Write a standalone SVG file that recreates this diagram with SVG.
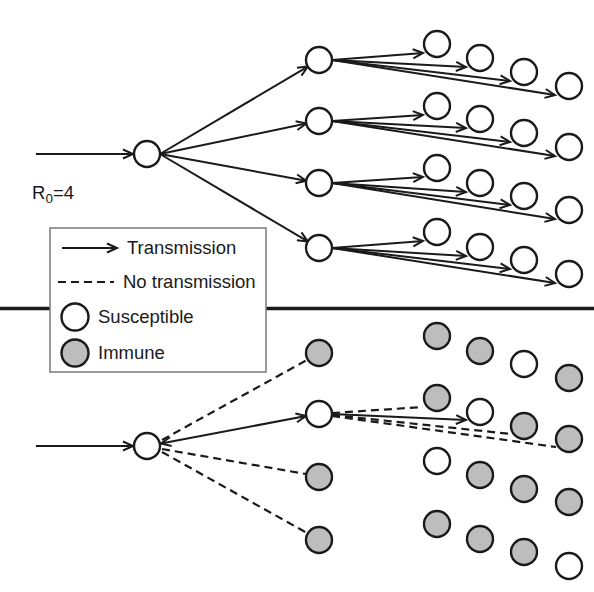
<svg xmlns="http://www.w3.org/2000/svg" width="594" height="592" viewBox="0 0 594 592">
<defs>
<marker id="ah" markerUnits="userSpaceOnUse" markerWidth="14" markerHeight="12" refX="10" refY="4.5" orient="auto-start-reverse" overflow="visible">
<path d="M0,0 L10,4.5 L0,9" fill="none" stroke="#1a1a1a" stroke-width="2"/>
</marker>
<style>
.n{stroke:#1a1a1a;stroke-width:2.4;}
.s{fill:#ffffff;}
.i{fill:#bdbdbd;}
.t{stroke:#1a1a1a;stroke-width:2;fill:none;marker-end:url(#ah);}
.b{stroke:#1a1a1a;stroke-width:2;fill:none;marker-start:url(#ah);marker-end:url(#ah);}
.d{stroke:#1a1a1a;stroke-width:2.2;fill:none;stroke-dasharray:8,5;}
.lbl{font-family:"Liberation Sans",Arial,sans-serif;font-size:18.5px;fill:#1a1a1a;}
</style>
</defs>
<rect width="594" height="592" fill="#ffffff"/>
<line x1="0" y1="308.5" x2="594" y2="308.5" stroke="#1a1a1a" stroke-width="3.5"/>

<g id="connectors">
<line class="t" x1="36" y1="154" x2="133" y2="154"/>
<line class="t" x1="160" y1="154" x2="307.8" y2="66.6"/>
<line class="t" x1="160" y1="154" x2="306.3" y2="123.6"/>
<line class="t" x1="160" y1="154" x2="306.2" y2="180.7"/>
<line class="t" x1="160" y1="154" x2="307.8" y2="241.4"/>
<line class="t" x1="332" y1="60" x2="423" y2="53"/>
<line class="t" x1="332" y1="60" x2="466" y2="67"/>
<line class="t" x1="332" y1="60" x2="510" y2="81"/>
<line class="t" x1="332" y1="60" x2="555" y2="95"/>
<line class="t" x1="332" y1="121" x2="423" y2="115"/>
<line class="t" x1="332" y1="121" x2="466" y2="128"/>
<line class="t" x1="332" y1="121" x2="510" y2="142"/>
<line class="t" x1="332" y1="121" x2="555" y2="156"/>
<line class="t" x1="332" y1="183" x2="423" y2="177"/>
<line class="t" x1="332" y1="183" x2="466" y2="192"/>
<line class="t" x1="332" y1="183" x2="510" y2="205"/>
<line class="t" x1="332" y1="183" x2="555" y2="219"/>
<line class="t" x1="332" y1="248" x2="423" y2="241"/>
<line class="t" x1="332" y1="248" x2="466" y2="256"/>
<line class="t" x1="332" y1="248" x2="510" y2="269"/>
<line class="t" x1="332" y1="248" x2="555" y2="283"/>
<line class="t" x1="36" y1="446" x2="133" y2="446"/>
<line class="b" x1="161" y1="443.5" x2="306" y2="416"/>
<line class="d" x1="162" y1="440" x2="307" y2="360"/>
<line class="d" x1="162" y1="449" x2="306" y2="474"/>
<line class="d" x1="162" y1="452" x2="307" y2="533"/>
<line class="d" x1="332" y1="413" x2="423" y2="407"/>
<line class="t" x1="332" y1="414" x2="466" y2="420"/>
<line class="d" x1="332" y1="415" x2="511" y2="434"/>
<line class="d" x1="332" y1="416" x2="556" y2="447"/>
</g>

<g id="top-root"><circle class="n s" cx="147" cy="154" r="13"/></g>
<g id="top-l1">
<circle class="n s" cx="319" cy="60" r="13"/>
<circle class="n s" cx="319" cy="121" r="13"/>
<circle class="n s" cx="319" cy="183" r="13"/>
<circle class="n s" cx="319" cy="248" r="13"/>
</g>
<g id="top-l2">
<circle class="n s" cx="437" cy="44" r="13"/>
<circle class="n s" cx="480" cy="58" r="13"/>
<circle class="n s" cx="524" cy="72" r="13"/>
<circle class="n s" cx="569" cy="86" r="13"/>
<circle class="n s" cx="437" cy="106" r="13"/>
<circle class="n s" cx="480" cy="119" r="13"/>
<circle class="n s" cx="524" cy="133" r="13"/>
<circle class="n s" cx="569" cy="147" r="13"/>
<circle class="n s" cx="437" cy="168" r="13"/>
<circle class="n s" cx="480" cy="183" r="13"/>
<circle class="n s" cx="524" cy="196" r="13"/>
<circle class="n s" cx="569" cy="210" r="13"/>
<circle class="n s" cx="437" cy="232" r="13"/>
<circle class="n s" cx="480" cy="247" r="13"/>
<circle class="n s" cx="524" cy="260" r="13"/>
<circle class="n s" cx="569" cy="274" r="13"/>
</g>

<g id="bottom-root"><circle class="n s" cx="147" cy="446" r="13"/></g>
<g id="bottom-l1">
<circle class="n i" cx="319" cy="353" r="13"/>
<circle class="n s" cx="319" cy="414" r="13"/>
<circle class="n i" cx="319" cy="477" r="13"/>
<circle class="n i" cx="319" cy="540" r="13"/>
</g>
<g id="bottom-l2">
<circle class="n i" cx="437" cy="336" r="13"/>
<circle class="n i" cx="480" cy="351" r="13"/>
<circle class="n s" cx="524" cy="364" r="13"/>
<circle class="n i" cx="569" cy="378" r="13"/>
<circle class="n i" cx="437" cy="398" r="13"/>
<circle class="n s" cx="480" cy="412" r="13"/>
<circle class="n i" cx="524" cy="426" r="13"/>
<circle class="n i" cx="569" cy="439" r="13"/>
<circle class="n s" cx="437" cy="461" r="13"/>
<circle class="n i" cx="480" cy="475" r="13"/>
<circle class="n i" cx="524" cy="489" r="13"/>
<circle class="n i" cx="569" cy="502" r="13"/>
<circle class="n i" cx="437" cy="524" r="13"/>
<circle class="n i" cx="480" cy="539" r="13"/>
<circle class="n i" cx="524" cy="552" r="13"/>
<circle class="n s" cx="569" cy="566" r="13"/>
</g>

<g id="r0-label">
<text class="lbl" x="32" y="199">R<tspan font-size="13.5" dy="4">0</tspan><tspan dy="-4">=4</tspan></text>
</g>

<g id="legend">
<rect x="50" y="228" width="216" height="144" fill="#ffffff" stroke="#7a7a7a" stroke-width="1.5"/>
<line class="t" x1="62" y1="248" x2="117" y2="248"/>
<text class="lbl" x="127" y="254">Transmission</text>
<line class="d" x1="58" y1="282" x2="114" y2="282" stroke-dasharray="9,6"/>
<text class="lbl" x="123" y="288">No transmission</text>
<circle class="n s" cx="75" cy="317" r="13.5"/>
<text class="lbl" x="98" y="323">Susceptible</text>
<circle class="n i" cx="75" cy="353" r="13.5"/>
<text class="lbl" x="98" y="359">Immune</text>
</g>
</svg>
